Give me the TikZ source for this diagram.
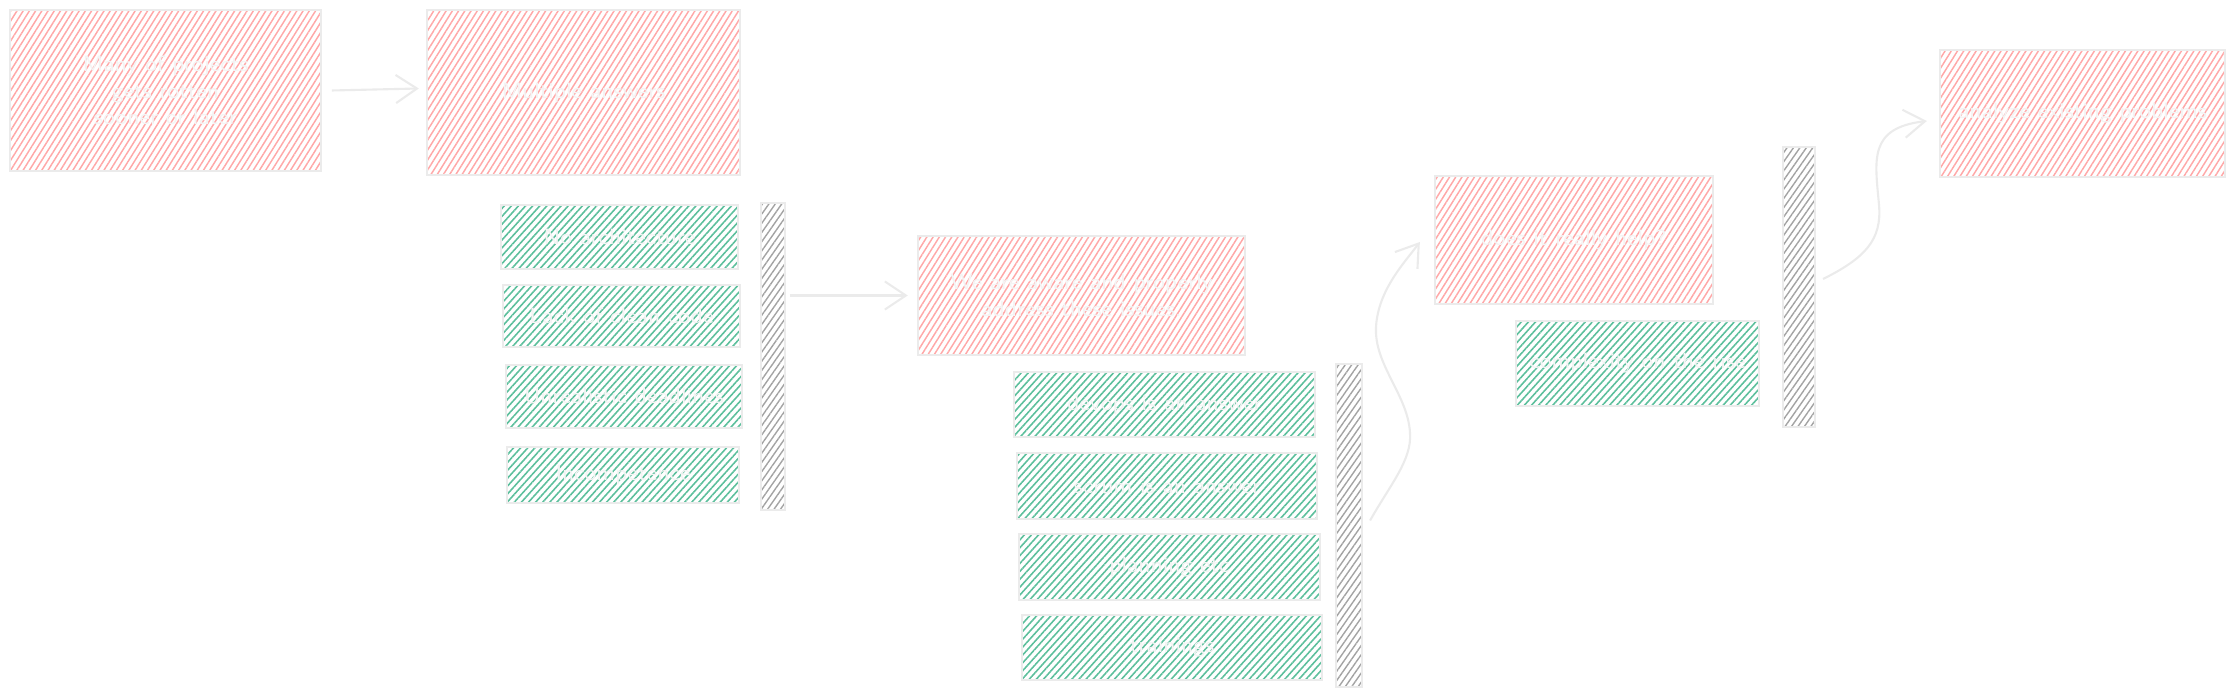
\documentclass[tikz,border=0pt]{standalone}
\usepackage{tikz}
\usetikzlibrary{patterns.meta,arrows.meta}
\definecolor{hatchred}{HTML}{FFA8A8}
\definecolor{hatchgreen}{HTML}{5CBF9C}
\definecolor{hatchgray}{HTML}{A3A3A3}
\definecolor{edgegray}{HTML}{EBEBEB}
\definecolor{inkwhite}{HTML}{F4F4F4}

\begin{document}
\begin{tikzpicture}[x=0.01cm,y=-0.01cm,
	box/.style={draw=edgegray,line width=0.6pt,text=inkwhite,align=center,inner sep=0pt,
		font=\fontsize{6.3}{7.6}\selectfont\sffamily},
	redbox/.style={box,pattern={Lines[angle=58,distance=1.5pt,line width=0.42pt]},pattern color=hatchred},
	greenbox/.style={box,pattern={Lines[angle=48,distance=1.5pt,line width=0.45pt]},pattern color=hatchgreen},
	graybar/.style={box,pattern={Lines[angle=55,distance=1.5pt,line width=0.4pt]},pattern color=hatchgray},
	arr/.style={draw=edgegray,line width=0.6pt,-{Straight Barb[length=6pt,width=8pt]}}]
	\useasboundingbox (0,0) rectangle (2234,695);
	\node[redbox,minimum width=3.11cm,minimum height=1.61cm] (rotten) at (165.5,90.5) {Many of projects\\gets rotten\\sooner or later};
	\node[redbox,minimum width=3.13cm,minimum height=1.65cm] (answers) at (583.5,92.5) {Multiple answers};
	\draw[arr] ([xshift=0.1cm]rotten.east) -- ([xshift=-0.07cm,yshift=0.04cm]answers.west);
	\node[greenbox,minimum width=2.37cm,minimum height=0.64cm] (arch) at (619.5,237) {No architecture};
	\node[greenbox,minimum width=2.37cm,minimum height=0.62cm] (cleancode) at (621.5,316) {Lack of clean code};
	\node[greenbox,minimum width=2.36cm,minimum height=0.63cm] (deadlines) at (624,396.5) {Unrealistic deadlines};
	\node[greenbox,minimum width=2.32cm,minimum height=0.56cm] (incompetence) at (623,475) {Incompetence};
	\node[graybar,minimum width=0.24cm,minimum height=3.07cm] (bar1) at (773,356.5) {};
	\node[redbox,minimum width=3.27cm,minimum height=1.19cm] (aware) at (1081.5,295.5) {We are aware and properly\\address these issues.};
	\coordinate (from1) at (bar1.east |- aware.west);
	\draw[arr] ([xshift=0.04cm]from1) -- ([xshift=-0.09cm]aware.west);
	\node[greenbox,minimum width=3.01cm,minimum height=0.65cm] (devops) at (1164.5,404.5) {devops is an answer};
	\node[greenbox,minimum width=3.00cm,minimum height=0.66cm] (scrum) at (1167,486) {scrum is an answer};
	\node[greenbox,minimum width=3.01cm,minimum height=0.66cm] (planning) at (1169.5,567) {planning etc};
	\node[greenbox,minimum width=3.00cm,minimum height=0.65cm] (trainings) at (1172,647.5) {trainings};
	\node[graybar,minimum width=0.26cm,minimum height=3.23cm] (bar2) at (1349,525.5) {};
	\node[redbox,minimum width=2.78cm,minimum height=1.28cm] (help) at (1574,240) {does it really help?};
	\node[greenbox,minimum width=2.43cm,minimum height=0.85cm] (complexity) at (1637.5,363.5) {complexity on the rise};
	\draw[arr] ([xshift=0.07cm,yshift=0.05cm]bar2.east) .. controls (1390,485) and (1412,460) .. (1410,433)
		.. controls (1408,395) and (1374,365) .. (1376,327)
		.. controls (1378,290) and (1405,262) .. ([xshift=-0.14cm,yshift=-0.02cm]help.west);
	\node[graybar,minimum width=0.32cm,minimum height=2.80cm] (bar3) at (1799,287) {};
	\node[redbox,minimum width=2.85cm,minimum height=1.27cm] (analyze) at (2082.5,113.5) {analyze existing problems};
	\draw[arr] ([xshift=0.07cm,yshift=0.08cm]bar3.east) .. controls (1865,258) and (1882,240) .. (1879,205)
		.. controls (1875,160) and (1868,128) .. ([xshift=-0.12cm,yshift=-0.075cm]analyze.west);
\end{tikzpicture}
\end{document}
